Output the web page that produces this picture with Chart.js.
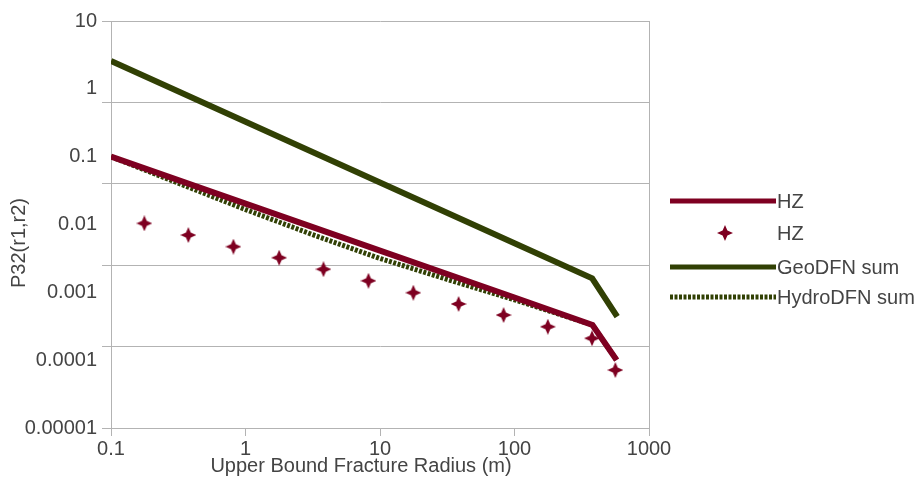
<!DOCTYPE html>
<html>
<head>
<meta charset="utf-8">
<script src="https://cdn.jsdelivr.net/npm/chart.js@4.4.1/dist/chart.umd.min.js"></script>
<style>
  html, body { margin:0; padding:0; background:#fff; }
  #wrap { width:922px; height:477px; }
</style>
</head>
<body>
<div id="wrap"><canvas id="chart" width="922" height="477"></canvas></div>
<script>
// P32(r1,r2) gegen obere Kluftradius-Grenze, log-log

const xTickValues = [0.1, 1, 10, 100, 1000];
const xTickLabels = ['0.1', '1', '10', '100', '1000'];
const yTickValues = [10, 1, 0.1, 0.01, 0.001, 0.0001, 0.00001];
const yTickLabels = ['10', '1', '0.1', '0.01', '0.001', '0.0001', '0.00001'];
const yGridValues = [10, 0.631, 0.0398, 0.00251, 0.000158, 0.00001];

const hzRadius    = [0.1, 1, 10, 100, 380, 575];
const hzLine      = [0.1, 0.0203, 0.00412, 0.00084, 0.00033, 0.0001];
const geoRadius   = [0.1, 1, 10, 100, 378, 580];
const geoSum      = [2.57, 0.327, 0.0417, 0.00531, 0.00161, 0.000437];
const hydroRadius = [0.1, 0.316, 1, 3.16, 10, 31.6, 100, 380, 575];
const hydroSum    = [0.1, 0.0407, 0.0166, 0.00708, 0.00316, 0.00155, 0.000776, 0.00033, 0.0001];
const hzPtRadius  = [0.177, 0.376, 0.813, 1.78, 3.8, 8.21, 17.7, 38.4, 83, 177, 377, 562];
const hzPoints    = [0.0104, 0.0070, 0.00471, 0.00324, 0.00219, 0.00148, 0.000987, 0.000673, 0.000463, 0.000311, 0.00021, 0.0000716];

const RED   = '#7e0021';
const GREEN = '#314004';
const GRID  = '#b3b3b3';
const TEXT  = '#444';
const FONT  = '"Liberation Sans", Arial, sans-serif';

const pairs = (xs, ys) => xs.map((x, i) => ({ x, y: ys[i] }));
const isIn  = (v, list) => list.some(w => Math.abs(Math.log10(v) - Math.log10(w)) < 1e-4);

// 4-zackiger Stern als Marker
function makeStar(size, color) {
  const c = document.createElement('canvas');
  c.width = c.height = size;
  const g = c.getContext('2d');
  const m = size / 2, k = size * 0.15;
  g.fillStyle = color;
  g.beginPath();
  g.moveTo(m, 0);
  g.lineTo(m + k, m - k);
  g.lineTo(size, m);
  g.lineTo(m + k, m + k);
  g.lineTo(m, size);
  g.lineTo(m - k, m + k);
  g.lineTo(0, m);
  g.lineTo(m - k, m - k);
  g.closePath();
  g.fill();
  return c;
}
const star = makeStar(16, RED);

const datasets = [
  { label: 'HZ', data: pairs(hzRadius, hzLine), borderColor: RED, backgroundColor: RED,
    borderWidth: 6, pointRadius: 0, order: 1 },
  { label: 'HZ', data: pairs(hzPtRadius, hzPoints), showLine: false, pointStyle: star,
    pointRadius: 8, borderColor: RED, backgroundColor: RED, order: 0 },
  { label: 'GeoDFN sum', data: pairs(geoRadius, geoSum), borderColor: GREEN, backgroundColor: GREEN,
    borderWidth: 6, pointRadius: 0, order: 3 },
  { label: 'HydroDFN sum', data: pairs(hydroRadius, hydroSum), borderColor: GREEN, backgroundColor: GREEN,
    borderWidth: 5, borderDash: [3, 1.5], pointRadius: 0, order: 2 },
];

// Legende rechts, eigene Zeichnung (lange Linienmuster)
const legendPlugin = {
  id: 'sideLegend',
  afterDraw(chart) {
    const ctx = chart.ctx;
    const x0 = 670, len = 106, tx = 777;
    const rowY = [201, 233, 267, 297];
    ctx.save();
    ctx.font = '20px ' + FONT;
    ctx.textBaseline = 'middle';
    chart.data.datasets.forEach((ds, i) => {
      const y = rowY[i];
      if (ds.showLine === false) {
        ctx.drawImage(ds.pointStyle, x0 + len / 2 - 8 + 2, y - 8);
      } else {
        ctx.strokeStyle = ds.borderColor;
        ctx.lineWidth = 5;
        ctx.setLineDash(ds.borderDash || []);
        ctx.beginPath();
        ctx.moveTo(x0, y);
        ctx.lineTo(x0 + len, y);
        ctx.stroke();
        ctx.setLineDash([]);
      }
      ctx.fillStyle = TEXT;
      ctx.fillText(ds.label, tx, y + 1);
    });
    ctx.restore();
  }
};

// Achsentitel
const titlePlugin = {
  id: 'axisTitles',
  afterDraw(chart) {
    const ctx = chart.ctx;
    ctx.save();
    ctx.font = '20px ' + FONT;
    ctx.fillStyle = TEXT;
    ctx.textAlign = 'center';
    ctx.textBaseline = 'middle';
    ctx.fillText('Upper Bound Fracture Radius (m)', 361, 466);
    ctx.translate(19, 243);
    ctx.rotate(-Math.PI / 2);
    ctx.fillText('P32(r1,r2)', 0, 0);
    ctx.restore();
  }
};

new Chart(document.getElementById('chart'), {
  type: 'line',
  data: { datasets },
  options: {
    responsive: false,
    animation: false,
    layout: { padding: { top: 21, right: 273, bottom: 0, left: 0 } },
    plugins: { legend: { display: false }, tooltip: { enabled: false } },
    scales: {
      x: {
        type: 'logarithmic', min: 0.1, max: 1000,
        afterBuildTicks: s => { s.ticks = xTickValues.map(v => ({ value: v })); },
        afterFit: s => { s.height = 49; },
        border: { color: GRID, width: 1 },
        grid: {
          drawOnChartArea: true, tickLength: 8, tickColor: GRID,
          color: c => (c.tick && c.tick.value === 1000) ? GRID : 'transparent',
        },
        ticks: {
          autoSkip: false, maxRotation: 0, padding: 1, color: TEXT,
          font: { family: FONT, size: 20 },
          callback: v => { const i = xTickValues.findIndex(w => isIn(v, [w])); return i >= 0 ? xTickLabels[i] : ''; },
        },
      },
      y: {
        type: 'logarithmic', min: 0.00001, max: 10,
        afterBuildTicks: s => {
          const vals = yTickValues.concat(yGridValues.filter(v => !isIn(v, yTickValues)));
          s.ticks = vals.sort((a, b) => b - a).map(v => ({ value: v }));
        },
        afterFit: s => { s.width = 111; },
        border: { color: GRID, width: 1 },
        grid: {
          tickLength: 9,
          color: c => (c.tick && isIn(c.tick.value, yGridValues)) ? GRID : 'transparent',
          tickColor: c => (c.tick && isIn(c.tick.value, yGridValues)) ? GRID : 'transparent',
        },
        ticks: {
          autoSkip: false, padding: 5, color: TEXT,
          font: { family: FONT, size: 20 },
          callback: v => { const i = yTickValues.findIndex(w => isIn(v, [w])); return i >= 0 ? yTickLabels[i] : ''; },
        },
      },
    },
  },
  plugins: [legendPlugin, titlePlugin],
});
</script>
</body>
</html>
